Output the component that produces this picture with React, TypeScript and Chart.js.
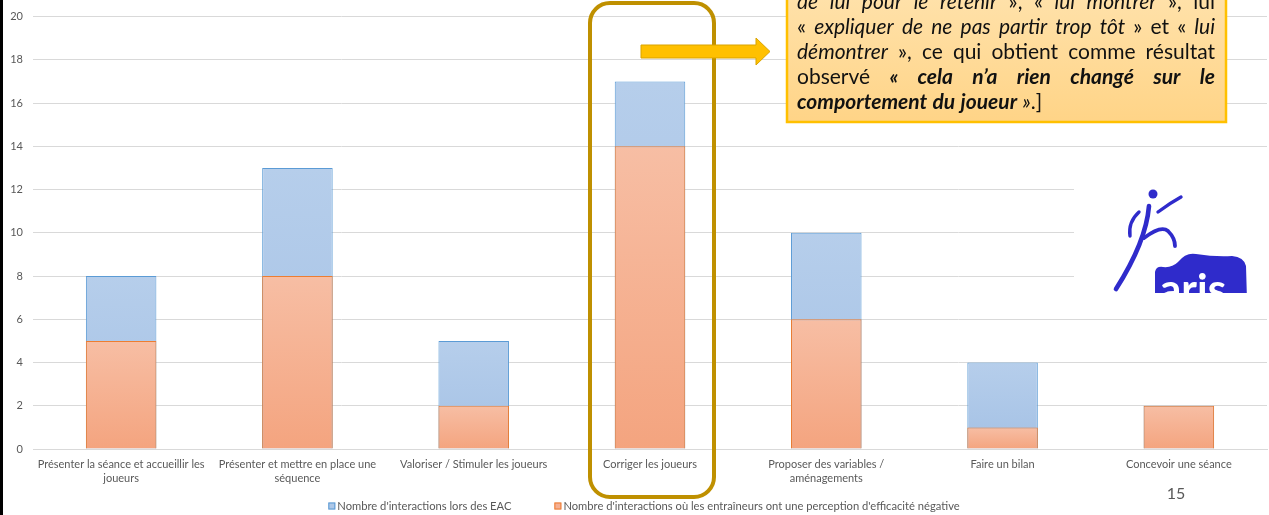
import React, { useEffect, useRef } from "react";
import { Chart, registerables } from "chart.js";

Chart.register(...registerables);

// Chart data
const categories: (string | string[])[] = [
  ["Présenter la séance et accueillir les", "joueurs"],
  ["Présenter et mettre en place une", "séquence"],
  "Valoriser / Stimuler les joueurs",
  "Corriger les joueurs",
  ["Proposer des variables /", "aménagements"],
  "Faire un bilan",
  "Concevoir une séance",
];
const totalInteractions = [8, 13, 5, 17, 10, 4, 2];
const negativeInteractions = [5, 8, 2, 14, 6, 1, 2];
const seriesLabels = [
  "Nombre d'interactions lors des EAC",
  "Nombre d'interactions où les entraîneurs ont une perception d'efficacité négative",
];
const yTicks = { min: 0, max: 20, step: 2 };

// Callout text: _..._ italic, *...* bold italic
const noteLines = [
  "_de lui pour le retenir_ », « _lui montrer_ », lui",
  "« _expliquer de ne pas partir trop tôt_ » et « _lui_",
  "_démontrer_ », ce qui obtient comme résultat",
  "observé *« cela n’a rien changé sur le*",
  "*comportement du joueur* _»_.]",
];
const pageNumber = "15";

const W = 1269;
const H = 515;
const FONT = "Lato, 'Open Sans', sans-serif";
const GRAY = "#595959";

type Piece = { text: string; style: "n" | "i" | "bi" };

function parseLine(line: string): Piece[][] {
  const words: Piece[][] = [];
  let style: "n" | "i" | "bi" = "n";
  let word: Piece[] = [];
  let buf = "";
  const flush = () => {
    if (buf) word.push({ text: buf, style });
    buf = "";
  };
  for (const ch of line) {
    if (ch === "_") {
      flush();
      style = style === "i" ? "n" : "i";
    } else if (ch === "*") {
      flush();
      style = style === "bi" ? "n" : "bi";
    } else if (ch === " ") {
      flush();
      if (word.length) words.push(word);
      word = [];
    } else {
      buf += ch;
    }
  }
  flush();
  if (word.length) words.push(word);
  return words;
}

function fontFor(style: string, size: number) {
  if (style === "i") return `italic ${size}px ${FONT}`;
  if (style === "bi") return `italic bold ${size}px ${FONT}`;
  return `${size}px ${FONT}`;
}

function wordWidth(ctx: CanvasRenderingContext2D, w: Piece[], size: number) {
  let t = 0;
  for (const p of w) {
    ctx.font = fontFor(p.style, size);
    t += ctx.measureText(p.text).width;
  }
  return t;
}

function drawCallout(ctx: CanvasRenderingContext2D) {
  const left = 787, right = 1226, bottom = 122;
  ctx.save();
  const g = ctx.createLinearGradient(0, -20, 0, bottom);
  g.addColorStop(0, "#FFE3AE");
  g.addColorStop(1, "#FFD487");
  ctx.fillStyle = g;
  ctx.fillRect(left, -20, right - left, bottom + 20);
  ctx.strokeStyle = "#FFC000";
  ctx.lineWidth = 2.5;
  ctx.strokeRect(left, -20, right - left, bottom + 20);

  const size = 21;
  const tx0 = 797, tx1 = 1215;
  const lineW = tx1 - tx0;
  ctx.fillStyle = "#111111";
  ctx.textBaseline = "middle";
  ctx.textAlign = "left";
  noteLines.forEach((line, li) => {
    const y = 2 + li * 25;
    const words = parseLine(line);
    const widths = words.map((w) => wordWidth(ctx, w, size));
    const total = widths.reduce((a, b) => a + b, 0);
    ctx.font = fontFor("n", size);
    const last = li === noteLines.length - 1;
    const gap = last || words.length < 2 ? ctx.measureText(" ").width : (lineW - total) / (words.length - 1);
    let x = tx0;
    words.forEach((w, wi) => {
      for (const p of w) {
        ctx.font = fontFor(p.style, size);
        ctx.fillText(p.text, x, y);
        x += ctx.measureText(p.text).width;
      }
      if (wi < words.length - 1) x += gap;
    });
  });
  ctx.restore();
}

function drawArrow(ctx: CanvasRenderingContext2D) {
  ctx.save();
  ctx.beginPath();
  ctx.moveTo(641, 45);
  ctx.lineTo(756, 45);
  ctx.lineTo(756, 38);
  ctx.lineTo(770, 51.5);
  ctx.lineTo(756, 65);
  ctx.lineTo(756, 58);
  ctx.lineTo(641, 58);
  ctx.closePath();
  ctx.fillStyle = "#FFC000";
  ctx.fill();
  ctx.strokeStyle = "#D9A300";
  ctx.lineWidth = 1;
  ctx.stroke();
  ctx.restore();
}

function drawHighlight(ctx: CanvasRenderingContext2D) {
  ctx.save();
  ctx.strokeStyle = "#BF9000";
  ctx.lineWidth = 4;
  ctx.beginPath();
  ctx.roundRect(590, 3, 124, 494, 20);
  ctx.stroke();
  ctx.restore();
}

function drawLogo(ctx: CanvasRenderingContext2D) {
  ctx.save();
  ctx.beginPath();
  ctx.rect(1074, 165, W - 1074, 293 - 165);
  ctx.clip();
  ctx.fillStyle = "#ffffff";
  ctx.fillRect(1074, 165, W - 1074, 293 - 165);
  const blue = "#2F2BCB";
  ctx.fillStyle = blue;
  ctx.strokeStyle = blue;
  ctx.lineCap = "round";
  // head
  ctx.beginPath();
  ctx.arc(1153, 194, 4.5, 0, Math.PI * 2);
  ctx.fill();
  // raised arm
  ctx.lineWidth = 3.4;
  ctx.beginPath();
  ctx.moveTo(1158, 212);
  ctx.quadraticCurveTo(1170, 203, 1181, 197);
  ctx.stroke();
  // back arm
  ctx.lineWidth = 3.4;
  ctx.beginPath();
  ctx.moveTo(1130, 236);
  ctx.quadraticCurveTo(1128, 222, 1139, 212);
  ctx.stroke();
  // body and front leg
  ctx.lineWidth = 4.6;
  ctx.beginPath();
  ctx.moveTo(1149, 206);
  ctx.quadraticCurveTo(1146, 242, 1116, 289);
  ctx.stroke();
  // rear leg
  ctx.lineWidth = 3.8;
  ctx.beginPath();
  ctx.moveTo(1144, 238);
  ctx.quadraticCurveTo(1161, 225, 1168, 231);
  ctx.quadraticCurveTo(1175, 238, 1175, 246);
  ctx.stroke();
  // base shape
  ctx.beginPath();
  ctx.moveTo(1155, 300);
  ctx.lineTo(1155, 272);
  ctx.quadraticCurveTo(1156, 266, 1163, 267);
  ctx.quadraticCurveTo(1172, 268, 1178, 262);
  ctx.quadraticCurveTo(1186, 252, 1196, 254);
  ctx.quadraticCurveTo(1215, 257, 1232, 256);
  ctx.quadraticCurveTo(1244, 257, 1246, 266);
  ctx.lineTo(1247, 300);
  ctx.closePath();
  ctx.fill();
  ctx.fillStyle = "#ffffff";
  ctx.font = `bold 42px ${FONT}`;
  ctx.textBaseline = "alphabetic";
  ctx.textAlign = "left";
  ctx.fillText("aris", 1160, 304);
  ctx.restore();
}

function drawLegend(chart: Chart) {
  const ctx = chart.ctx;
  ctx.save();
  ctx.font = `11.2px ${FONT}`;
  ctx.textBaseline = "middle";
  ctx.textAlign = "left";
  const y = 506;
  const box = 7;
  const gapBox = 2;
  const gapItem = 43;
  const items = chart.data.datasets.map((d: any) => ({
    text: d.label as string,
    fill: d.legendFill as string,
    stroke: d.borderColor as string,
  }));
  const widths = items.map((it) => box + gapBox + ctx.measureText(it.text).width);
  const total = widths.reduce((a, b) => a + b, 0) + gapItem * (items.length - 1);
  let x = (chart.chartArea.left + chart.chartArea.right) / 2 - 6 - total / 2;
  items.forEach((it, i) => {
    ctx.fillStyle = it.fill;
    ctx.fillRect(x, y - box / 2, box, box);
    ctx.strokeStyle = it.stroke;
    ctx.lineWidth = 1;
    ctx.strokeRect(x + 0.5, y - box / 2 + 0.5, box - 1, box - 1);
    ctx.fillStyle = GRAY;
    ctx.fillText(it.text, x + box + gapBox, y);
    x += widths[i] + gapItem;
  });
  ctx.restore();
}

const overlayPlugin = {
  id: "overlays",
  afterDraw(chart: Chart) {
    const ctx = chart.ctx;
    drawLogo(ctx);
    drawHighlight(ctx);
    drawArrow(ctx);
    drawCallout(ctx);
    drawLegend(chart);
    ctx.save();
    ctx.fillStyle = GRAY;
    ctx.font = `16px ${FONT}`;
    ctx.textAlign = "center";
    ctx.textBaseline = "middle";
    ctx.fillText(pageNumber, 1176, 494);
    // left page edge
    ctx.fillStyle = "#000000";
    ctx.fillRect(0, 0, 3, H);
    ctx.restore();
  },
};

function barGradient(top: string, bottom: string) {
  return (c: any) => {
    const chart = c.chart;
    const y = chart.scales?.y;
    if (!chart.chartArea || !y || c.type !== "data") return bottom;
    const yTop = y.getPixelForValue(c.raw);
    const yBottom = y.getPixelForValue(0);
    if (!isFinite(yTop) || !isFinite(yBottom) || yTop === yBottom) return bottom;
    const g = chart.ctx.createLinearGradient(0, yTop, 0, yBottom);
    g.addColorStop(0, top);
    g.addColorStop(1, bottom);
    return g;
  };
}

export default function App() {
  const ref = useRef<HTMLCanvasElement>(null);
  useEffect(() => {
    if (!ref.current) return;
    const chart = new Chart(ref.current, {
      type: "bar",
      data: {
        labels: categories,
        datasets: [
          {
            label: seriesLabels[0],
            data: totalInteractions,
            backgroundColor: barGradient("#B6CEEB", "#A4C1E5"),
            borderColor: "#5B9BD5",
            borderWidth: 1,
            order: 1,
            legendFill: "#AEC8E8",
          } as any,
          {
            label: seriesLabels[1],
            data: negativeInteractions,
            backgroundColor: barGradient("#F7BEA4", "#F4A47F"),
            borderColor: "#ED7D31",
            borderWidth: 1,
            order: 0,
            legendFill: "#F5B093",
          } as any,
        ],
      },
      options: {
        responsive: false,
        animation: false,
        events: [],
        layout: { padding: { left: 0, right: 2, top: 16, bottom: 0 } },
        plugins: {
          legend: { display: false },
          tooltip: { enabled: false },
        },
        datasets: { bar: { barPercentage: 0.4, categoryPercentage: 1 } },
        scales: {
          x: {
            stacked: true,
            grid: { display: false, drawTicks: false },
            border: { display: true, color: "#D9D9D9", width: 1 },
            ticks: {
              color: GRAY,
              font: { family: FONT, size: 11, lineHeight: 1.27 },
              padding: 8,
              maxRotation: 0,
              autoSkip: false,
            },
            afterFit: (s: any) => {
              s.height = 66;
            },
          },
          y: {
            stacked: false,
            min: yTicks.min,
            max: yTicks.max,
            grid: { color: "#D9D9D9", lineWidth: 1, drawTicks: false },
            border: { display: false },
            ticks: {
              stepSize: yTicks.step,
              color: GRAY,
              font: { family: FONT, size: 11 },
              padding: 10,
            },
            afterFit: (s: any) => {
              s.width = 33;
            },
          },
        },
      },
      plugins: [overlayPlugin],
    });
    return () => chart.destroy();
  }, []);
  return (
    <div style={{ position: "fixed", left: 0, top: 0, width: W, height: H, overflow: "hidden", background: "#fff" }}>
      <canvas ref={ref} width={W} height={H} style={{ display: "block" }} />
    </div>
  );
}
